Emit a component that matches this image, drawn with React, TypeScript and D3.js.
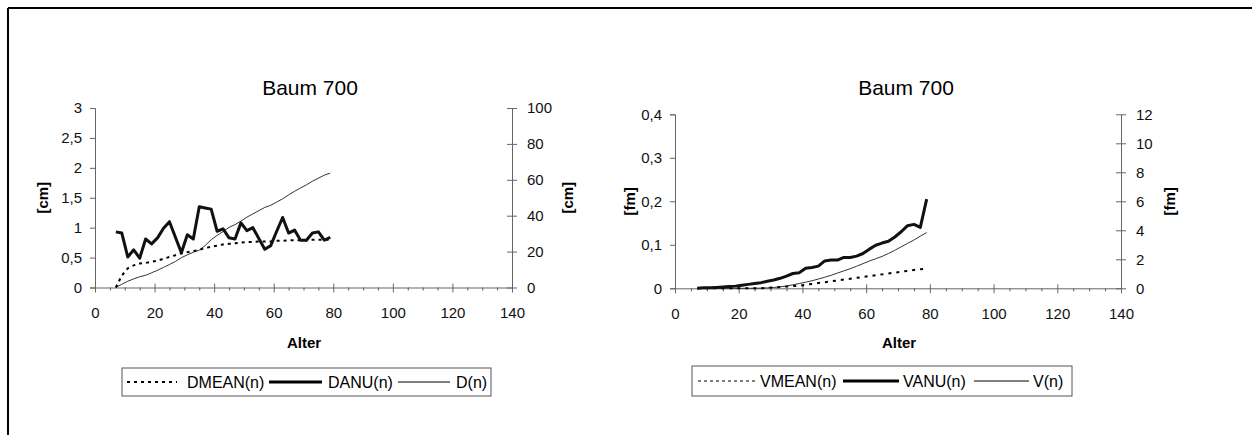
import React, { useRef, useEffect } from 'react';
import * as d3 from 'd3';

// Alter (years), shared by both panels
const ages = [7, 9, 11, 13, 15, 17, 19, 21, 23, 25, 27, 29, 31, 33, 35, 37, 39, 41, 43, 45, 47, 49, 51, 53, 55, 57, 59, 61, 63, 65, 67, 69, 71, 73, 75, 77, 79];

// left panel: diameter
const dmean = [0, 0.2, 0.32, 0.37, 0.4, 0.41, 0.43, 0.45, 0.48, 0.51, 0.54, 0.57, 0.59, 0.61, 0.63, 0.66, 0.68, 0.7, 0.72, 0.73, 0.74, 0.75, 0.76, 0.76, 0.77, 0.77, 0.77, 0.78, 0.78, 0.79, 0.79, 0.79, 0.79, 0.8, 0.8, 0.8, 0.8];
const danu = [0.93, 0.91, 0.51, 0.63, 0.49, 0.81, 0.73, 0.83, 0.99, 1.1, 0.84, 0.58, 0.88, 0.81, 1.35, 1.33, 1.31, 0.94, 0.98, 0.83, 0.81, 1.08, 0.95, 1.0, 0.82, 0.64, 0.7, 0.94, 1.17, 0.91, 0.96, 0.79, 0.79, 0.91, 0.93, 0.79, 0.84];
const dcum = [0, 1.8, 3.5, 4.8, 6.0, 6.8, 8.2, 9.6, 11.2, 12.8, 14.5, 16.6, 18.2, 19.6, 20.8, 23.4, 26.6, 29.0, 31.2, 33.5, 35.0, 37.0, 39.2, 41.0, 42.8, 44.6, 45.8, 47.6, 49.4, 51.6, 53.6, 55.4, 57.2, 59.2, 60.9, 62.6, 63.7];

// right panel: volume
const vmean = [0, 0, 0, 0, 0, 0, 0, 0, 0, 0, 0, 0.001, 0.002, 0.003, 0.004, 0.005, 0.006, 0.008, 0.01, 0.012, 0.014, 0.016, 0.018, 0.02, 0.022, 0.024, 0.026, 0.028, 0.03, 0.032, 0.034, 0.036, 0.038, 0.04, 0.042, 0.044, 0.045];
const vanu = [0, 0.001, 0.001, 0.002, 0.003, 0.004, 0.005, 0.007, 0.009, 0.011, 0.013, 0.016, 0.019, 0.023, 0.028, 0.034, 0.036, 0.046, 0.048, 0.051, 0.063, 0.065, 0.065, 0.071, 0.071, 0.074, 0.08, 0.09, 0.099, 0.104, 0.108, 0.118, 0.13, 0.144, 0.147, 0.14, 0.205];
const vcum = [0, 0, 0, 0, 0, 0, 0, 0, 0, 0.005, 0.01, 0.03, 0.06, 0.1, 0.16, 0.24, 0.33, 0.42, 0.52, 0.64, 0.76, 0.9, 1.05, 1.2, 1.35, 1.52, 1.7, 1.88, 2.04, 2.2, 2.4, 2.62, 2.86, 3.1, 3.33, 3.6, 3.84];

const xTicks = [0, 20, 40, 60, 80, 100, 120, 140];
const dLeftTicks = [0, 0.5, 1, 1.5, 2, 2.5, 3];
const dRightTicks = [0, 20, 40, 60, 80, 100];
const vLeftTicks = [0, 0.1, 0.2, 0.3, 0.4];
const vRightTicks = [0, 2, 4, 6, 8, 10, 12];

const FONT = "Arial, 'Liberation Sans', sans-serif";
const comma = (d) => String(d).replace('.', ',');

function drawPanel(svg, cfg) {
    const x = d3.scaleLinear().domain([0, 140]).range([cfg.x0, cfg.x1]);
    const yl = d3.scaleLinear().domain([0, cfg.leftTicks[cfg.leftTicks.length - 1]]).range([cfg.y0, cfg.y1]);
    const yr = d3.scaleLinear().domain([0, cfg.rightTicks[cfg.rightTicks.length - 1]]).range([cfg.y0, cfg.y1]);

    const g = svg.append("g").attr("font-family", FONT);

    g.append("text")
        .attr("x", cfg.titleX).attr("y", 95)
        .attr("text-anchor", "middle")
        .attr("font-size", "21px")
        .text("Baum 700");

    // minor x ticks
    const minor = d3.range(0, 141, 5).filter(v => v % 20 !== 0);
    g.append("g")
        .attr("transform", "translate(0," + cfg.y0 + ")")
        .call(d3.axisBottom(x).tickValues(minor).tickSize(3).tickFormat(""))
        .call(s => s.select(".domain").remove())
        .selectAll("line").attr("stroke", "#555");

    const xa = g.append("g")
        .attr("transform", "translate(0," + cfg.y0 + ")")
        .call(d3.axisBottom(x).tickValues(xTicks).tickSizeOuter(0).tickPadding(14));
    xa.selectAll(".tick line").attr("y1", -4).attr("y2", 5);
    xa.selectAll("line, path").attr("stroke", "#666");
    xa.selectAll("text").attr("font-size", "15px").attr("font-family", FONT).attr("fill", "#111");

    const la = g.append("g")
        .attr("transform", "translate(" + cfg.x0 + ",0)")
        .call(d3.axisLeft(yl).tickValues(cfg.leftTicks).tickFormat(comma).tickSizeOuter(0).tickSize(5).tickPadding(8));
    la.selectAll("line, path").attr("stroke", "#666");
    la.selectAll("text").attr("font-size", "15px").attr("font-family", FONT).attr("fill", "#111");

    const ra = g.append("g")
        .attr("transform", "translate(" + cfg.x1 + ",0)")
        .call(d3.axisRight(yr).tickValues(cfg.rightTicks).tickFormat(comma).tickSizeOuter(0).tickPadding(9));
    ra.selectAll(".tick line").attr("x1", -5).attr("x2", 5);
    ra.selectAll("line, path").attr("stroke", "#666");
    ra.selectAll("text").attr("font-size", "15px").attr("font-family", FONT).attr("fill", "#111");

    g.append("text")
        .attr("x", cfg.alterX).attr("y", 348)
        .attr("text-anchor", "middle")
        .attr("font-size", "15px").attr("font-weight", "bold")
        .text("Alter");

    const ymid = (cfg.y0 + cfg.y1) / 2;
    [cfg.leftLabelX, cfg.rightLabelX].forEach(lx => {
        g.append("text")
            .attr("transform", "translate(" + lx + "," + ymid + ") rotate(-90)")
            .attr("text-anchor", "middle")
            .attr("dy", "0.35em")
            .attr("font-size", "15px").attr("font-weight", "bold")
            .text(cfg.unit);
    });

    const lineL = d3.line().x((d, i) => x(ages[i])).y(d => yl(d));
    const lineR = d3.line().x((d, i) => x(ages[i])).y(d => yr(d));

    g.append("path").datum(cfg.cum).attr("d", lineR)
        .attr("fill", "none").attr("stroke", "#333").attr("stroke-width", 1);
    g.append("path").datum(cfg.mean).attr("d", lineL)
        .attr("fill", "none").attr("stroke", "#000").attr("stroke-width", 2)
        .attr("stroke-dasharray", cfg.meanDash);
    g.append("path").datum(cfg.anu).attr("d", lineL)
        .attr("fill", "none").attr("stroke", "#111").attr("stroke-width", 3)
        .attr("stroke-linejoin", "round");

    // legend
    const lg = cfg.legend;
    g.append("rect")
        .attr("x", lg.x).attr("y", lg.y).attr("width", lg.w).attr("height", lg.h)
        .attr("fill", "none").attr("stroke", "#555").attr("stroke-width", 1);
    const ly = lg.y + lg.h / 2;
    lg.items.forEach(it => {
        g.append("line")
            .attr("x1", it.l0).attr("x2", it.l1).attr("y1", ly).attr("y2", ly)
            .attr("stroke", "#000").attr("stroke-width", it.w)
            .attr("stroke-dasharray", it.dash || null);
        g.append("text")
            .attr("x", it.tx).attr("y", ly).attr("dy", "0.35em")
            .attr("font-size", "16px")
            .text(it.label);
    });
}

function App() {
    const ref = useRef();
    useEffect(() => {
        const svg = d3.select(ref.current);
        svg.selectAll("*").remove();

        // frame (top and left edge)
        svg.append("line").attr("x1", 8).attr("x2", 1252).attr("y1", 8).attr("y2", 8)
            .attr("stroke", "#000").attr("stroke-width", 2);
        svg.append("line").attr("x1", 8).attr("x2", 8).attr("y1", 8).attr("y2", 435)
            .attr("stroke", "#000").attr("stroke-width", 2);

        drawPanel(svg, {
            x0: 95, x1: 512, y0: 287.5, y1: 108,
            leftTicks: dLeftTicks, rightTicks: dRightTicks,
            titleX: 310, alterX: 304, leftLabelX: 43, rightLabelX: 568, unit: "[cm]",
            mean: dmean, anu: danu, cum: dcum, meanDash: "3,4",
            legend: {
                x: 122, y: 368, w: 369, h: 28,
                items: [
                    { l0: 127, l1: 177, w: 2, dash: "3,4", tx: 187, label: "DMEAN(n)" },
                    { l0: 269, l1: 322, w: 3, tx: 328, label: "DANU(n)" },
                    { l0: 398, l1: 450, w: 1, tx: 456, label: "D(n)" }
                ]
            }
        });

        drawPanel(svg, {
            x0: 675, x1: 1121, y0: 288.3, y1: 114.3,
            leftTicks: vLeftTicks, rightTicks: vRightTicks,
            titleX: 906, alterX: 899, leftLabelX: 630, rightLabelX: 1170, unit: "[fm]",
            mean: vmean, anu: vanu, cum: vcum, meanDash: "3,5",
            legend: {
                x: 692, y: 366, w: 380, h: 30,
                items: [
                    { l0: 698, l1: 757, w: 1, dash: "3,3", tx: 760, label: "VMEAN(n)" },
                    { l0: 843, l1: 899, w: 3, tx: 903, label: "VANU(n)" },
                    { l0: 974, l1: 1029, w: 1, tx: 1033, label: "V(n)" }
                ]
            }
        });
    }, []);
    return (
        <svg ref={ref} width="1252" height="435" style={{ position: 'absolute', left: 0, top: 0, background: '#fff' }}></svg>
    );
}

export default App;
